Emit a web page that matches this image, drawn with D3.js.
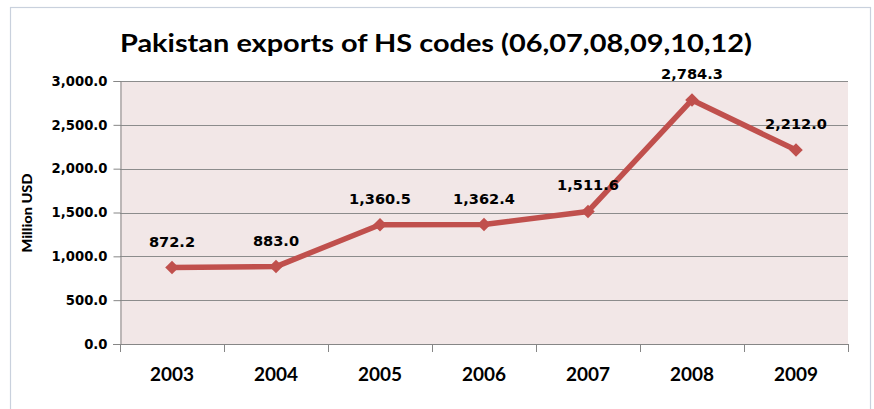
<!DOCTYPE html>
<html><head><meta charset="utf-8">
<script src="https://cdn.jsdelivr.net/npm/d3@7"></script>
<style>
html,body{margin:0;padding:0;background:#fff;}
svg{display:block;}
</style></head>
<body>
<svg id="chart" width="874" height="409"></svg>
<script>
const title = "Pakistan exports of HS codes (06,07,08,09,10,12)";
const yAxisTitle = "Million USD";
const years = ["2003","2004","2005","2006","2007","2008","2009"];
const exportsValues = [872.2, 883.0, 1360.5, 1362.4, 1511.6, 2784.3, 2212.0];
const yTicks = [0, 500, 1000, 1500, 2000, 2500, 3000];

const svg = d3.select("#chart");
const W = 874, H = 409;
const m = {left:120, right:26, top:81, bottom:65};
const pw = W - m.left - m.right; // 728
const ph = H - m.top - m.bottom; // 263

// chart frame
svg.append("rect").attr("x",10.5).attr("y",7.5).attr("width",860).attr("height",420)
  .attr("fill","#fff").attr("stroke","#c9d1dd").attr("stroke-width",1.2);

const x = d3.scaleBand().domain(years).range([m.left, m.left+pw]).padding(0);
const y = d3.scaleLinear().domain([0,3000]).range([m.top+ph, m.top]);

// plot background
svg.append("rect").attr("x",m.left).attr("y",m.top).attr("width",pw).attr("height",ph)
  .attr("fill","#f2e7e7");

// gridlines
svg.append("g").selectAll("line").data(yTicks.filter(d=>d>0)).join("line")
  .attr("x1",m.left).attr("x2",m.left+pw)
  .attr("y1",d=>Math.round(y(d))+0.5).attr("y2",d=>Math.round(y(d))+0.5)
  .attr("stroke","#8c8c8c").attr("stroke-width",1);

// y axis
const yAxis = svg.append("g").attr("transform",`translate(${m.left+0.5},0)`)
  .call(d3.axisLeft(y).tickValues(yTicks).tickSize(7).tickPadding(6)
    .tickFormat(d=>d3.format(",.1f")(d)));
yAxis.select(".domain").attr("stroke","#868686");
yAxis.selectAll(".tick line").attr("stroke","#868686");
yAxis.selectAll("text").attr("font-family","DejaVu Sans").attr("font-weight","bold")
  .attr("font-size","13.2px").attr("fill","#000");

// x axis line and boundary ticks
const xAxisG = svg.append("g");
xAxisG.append("line").attr("x1",m.left-7).attr("x2",m.left+pw)
  .attr("y1",y(0)+0.5).attr("y2",y(0)+0.5).attr("stroke","#868686");
const bounds = years.map(d=>x(d)).concat([x(years[years.length-1])+x.bandwidth()]);
xAxisG.selectAll("line.tk").data(bounds).join("line").attr("class","tk")
  .attr("x1",d=>Math.round(d)+0.5).attr("x2",d=>Math.round(d)+0.5)
  .attr("y1",y(0)).attr("y2",y(0)+8).attr("stroke","#868686");
xAxisG.selectAll("text").data(years).join("text")
  .attr("x",d=>x(d)+x.bandwidth()/2).attr("y",381)
  .attr("text-anchor","middle").attr("font-family","Lato").attr("font-weight","bold")
  .attr("font-size","18px").attr("fill","#000")
  .attr("textLength",44).attr("lengthAdjust","spacingAndGlyphs")
  .text(d=>d);

// y axis title
svg.append("text").attr("transform","translate(32,213) rotate(-90)")
  .attr("text-anchor","middle").attr("font-family","Lato").attr("font-weight","900")
  .attr("font-size","13px").attr("fill","#000")
  .attr("textLength",79).attr("lengthAdjust","spacingAndGlyphs")
  .text(yAxisTitle);

// title
svg.append("text").attr("x",436).attr("y",52).attr("text-anchor","middle")
  .attr("font-family","Lato").attr("font-weight","bold").attr("font-size","25.5px")
  .attr("fill","#000").attr("textLength",632).attr("lengthAdjust","spacingAndGlyphs")
  .text(title);

// line
const data = years.map((yr,i)=>({yr, v: exportsValues[i]}));
const cx = d=>x(d.yr)+x.bandwidth()/2;
const line = d3.line().x(cx).y(d=>y(d.v));
svg.append("path").datum(data).attr("d",line).attr("fill","none")
  .attr("stroke","#c0504d").attr("stroke-width",5.5).attr("stroke-linejoin","round");

// diamond markers
const diamond = d3.symbol().type(d3.symbolSquare).size(92);
svg.append("g").selectAll("path").data(data).join("path")
  .attr("d",diamond())
  .attr("transform",d=>`translate(${cx(d)},${y(d.v)}) rotate(45)`)
  .attr("fill","#c0504d");

// data labels
svg.append("g").selectAll("text").data(data).join("text")
  .attr("x",cx).attr("y",d=>y(d.v)-21)
  .attr("text-anchor","middle").attr("font-family","DejaVu Sans").attr("font-weight","bold")
  .attr("font-size","14.6px").attr("fill","#000")
  .text(d=>d3.format(",.1f")(d.v));
</script>
</body></html>
